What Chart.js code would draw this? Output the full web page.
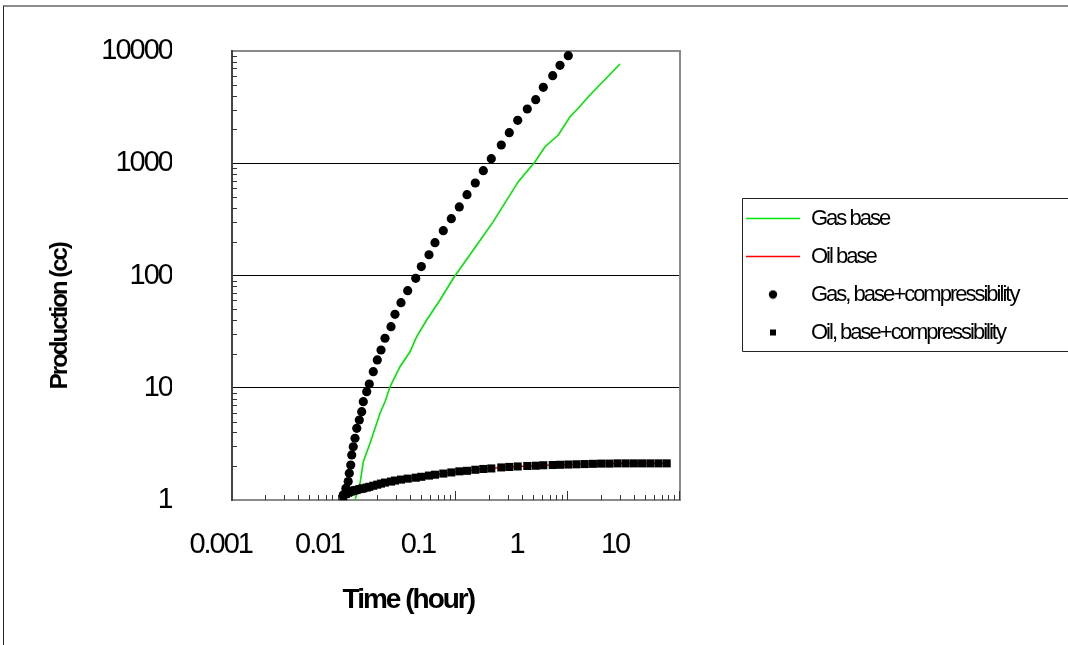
<!DOCTYPE html>
<html>
<head>
<meta charset="utf-8">
<script src="https://cdn.jsdelivr.net/npm/chart.js@4.4.1/dist/chart.umd.min.js"></script>
<style>
html,body{margin:0;padding:0;background:#fff;}
#wrap{position:relative;width:1068px;height:645px;overflow:hidden;}
#frame{position:absolute;left:3px;top:5px;width:1070px;height:650px;border-top:2px solid #8c8c8c;border-left:1px solid #222;pointer-events:none;}
canvas{position:absolute;left:0;top:0;}
</style>
</head>
<body>
<div id="wrap"><canvas id="c" width="1068" height="645" style="width:1068px;height:645px"></canvas><div id="frame"></div></div>
<script>
// ---------- data ----------
const markerTimes = [0.00986,0.0104,0.0109,0.01115,0.01148,0.01172,0.0121,0.01254,0.013,0.0137,
  0.01439,0.01487,0.01595,0.01682,0.01826,0.01983,0.0214,0.02323,0.02628,0.02852,
  0.03228,0.03705,0.0437,0.049,0.0574,0.0649,0.077,0.0908,0.107,0.1254,
  0.1487,0.1753,0.2066,0.2537,0.2991,0.3556,0.4331,0.5147,0.6018,0.7302,
  0.8484,1.006,1.191,1.41,1.669,1.975,2.337,2.766,3.275,3.876,
  4.588,5.43,6.428,7.607];
const gasCompValues = [1.11,1.27,1.46,1.73,2.05,2.52,2.98,3.55,4.35,5.16,
  6.12,7.51,9.22,10.8,13.9,17.7,21.7,27.6,35.0,45.1,
  57.3,73.2,94.4,120,153,196,251,321,408,525,
  667,858,1098,1454,1872,2413,3043,3682,4750,6025,
  7460,9080];
const oilCompValues = [1.08,1.13,1.16,1.18,1.19,1.20,1.21,1.22,1.23,1.25,
  1.26,1.27,1.29,1.31,1.34,1.37,1.40,1.43,1.46,1.49,
  1.52,1.55,1.58,1.61,1.65,1.68,1.72,1.76,1.80,1.82,
  1.86,1.89,1.91,1.95,1.97,1.99,2.01,2.02,2.04,2.05,
  2.06,2.07,2.08,2.09,2.10,2.11,2.11,2.12,2.12,2.12,
  2.12,2.12,2.12,2.12];
const gasBaseTimes = [0.01253,0.0139,0.01487,0.01707,0.01959,0.02096,0.02323,0.02575,0.03162,0.03883,
  0.04458,0.05475,0.0720,0.0946,0.1427,0.2153,0.3599,0.5075,0.6232,0.8192,
  1.042,1.236,1.518,2.912];
const gasBaseValues = [1.0,1.41,2.19,3.2,4.82,5.92,7.51,10.2,15.4,20.9,
  28.5,40.1,60.5,94.4,169,302,685,1032,1404,1785,
  2598,3087,3917,7660];
const oilBaseTimes = [0.0092,0.0099,0.0104,0.0115,0.0130,0.0149,0.0168,0.0198,0.0232,0.0285,
  0.0371,0.049,0.065,0.091,0.125,0.175,0.254,0.356,0.515,0.73,
  1.006,1.41,1.975,2.766,3.876,5.43,7.607];
const oilBaseValues = [1.0,1.08,1.13,1.2,1.23,1.27,1.31,1.37,1.43,1.49,
  1.55,1.61,1.68,1.76,1.82,1.89,1.95,1.99,2.02,2.05,
  2.07,2.09,2.11,2.12,2.12,2.12,2.12];
const seriesNames = ['Gas base','Oil base','Gas, base+compressibility','Oil, base+compressibility'];
const yTickValues = [1,10,100,1000,10000];
const xTickLabels = ['0.001','0.01','0.1','1','10'];
const xTitle = 'Time (hour)';
const yTitle = 'Production (cc)';

// ---------- styling / layout constants ----------
const FONT = "'Liberation Sans',Arial,sans-serif";
const LETTER_SPACING = '-2px';                        // the original uses a narrow face
const X_LABEL_MIN = -2.8854, X_LABEL_MAX = 1.6582;   // label band (decades), slightly compressed like the original
const X_TITLE_POS = -1.097;
const Y_TITLE_POS = 0.572;
const LEGEND_LEFT = 730;

const pts = (xs, ys) => ys.map((v, i) => ({x: xs[i], y: v}));

function markerCanvas(kind){
  const c = document.createElement('canvas');
  c.width = 10; c.height = 10;
  const g = c.getContext('2d');
  g.fillStyle = '#000';
  if (kind === 'circle'){ g.beginPath(); g.arc(5,5,4.2,0,Math.PI*2); g.fill(); }
  else { g.fillRect(2,2,6,6); }
  return c;
}
const legendImgs = [null, null, markerCanvas('circle'), markerCanvas('rect')];

const narrowText = {
  id: 'narrowText',
  beforeUpdate(chart){ chart.ctx.letterSpacing = LETTER_SPACING; },
  beforeDraw(chart){ chart.ctx.letterSpacing = LETTER_SPACING; }
};

const minorTicks = {
  id: 'minorTicks',
  beforeDatasetsDraw(chart){
    const {ctx} = chart; const x = chart.scales.x, y = chart.scales.y;
    ctx.save(); ctx.strokeStyle = '#333'; ctx.lineWidth = 1; ctx.beginPath();
    const ex0 = Math.round(Math.log10(x.min)), ex1 = Math.round(Math.log10(x.max));
    for (let e = ex0; e <= ex1; e++){
      const d = Math.pow(10, e);
      for (let m = 1; m <= 9; m++){
        if (e === ex0 && m === 1) continue;
        if (m * d > x.max * 1.0001) break;
        const px = Math.round(x.getPixelForValue(m * d)) - 0.5;
        const len = m === 1 ? 9 : 5;
        ctx.moveTo(px, y.bottom); ctx.lineTo(px, y.bottom - len);
      }
    }
    const ey0 = Math.round(Math.log10(y.min)), ey1 = Math.round(Math.log10(y.max));
    for (let e = ey0; e < ey1; e++){
      const d = Math.pow(10, e);
      for (let m = 2; m <= 9; m++){
        const py = Math.round(y.getPixelForValue(m * d)) + 0.5;
        ctx.moveTo(x.left, py); ctx.lineTo(x.left + 5, py);
      }
    }
    ctx.stroke(); ctx.restore();
  }
};

const legendFrame = {
  id: 'legendFrame',
  afterDraw(chart){
    const lg = chart.legend; if (!lg || !lg.legendHitBoxes || !lg.legendHitBoxes.length) return;
    const hb = lg.legendHitBoxes; const first = hb[0], last = hb[hb.length - 1];
    const x0 = Math.round(lg.left + 12) + 0.5;
    const y0 = Math.round(first.top - 10) + 0.5;
    const y1 = Math.round(last.top + last.height + 7) + 0.5;
    const x1 = chart.width;
    const ctx = chart.ctx;
    ctx.save(); ctx.strokeStyle = '#222'; ctx.lineWidth = 1;
    ctx.beginPath(); ctx.moveTo(x1, y0); ctx.lineTo(x0, y0); ctx.lineTo(x0, y1); ctx.lineTo(x1, y1); ctx.stroke();
    ctx.restore();
  }
};

const chart = new Chart(document.getElementById('c'), {
  type: 'scatter',
  data: {
    datasets: [
      {label: seriesNames[0], type: 'line', xAxisID: 'x', yAxisID: 'y', data: pts(gasBaseTimes, gasBaseValues), borderColor: '#00e600', backgroundColor: '#00e600', borderWidth: 1.6, pointRadius: 0, tension: 0, order: 1},
      {label: seriesNames[1], type: 'line', xAxisID: 'x', yAxisID: 'y', data: pts(oilBaseTimes, oilBaseValues), borderColor: '#ff0000', backgroundColor: '#ff0000', borderWidth: 1.6, pointRadius: 0, tension: 0, order: 1},
      {label: seriesNames[2], xAxisID: 'x', yAxisID: 'y', data: pts(markerTimes, gasCompValues), showLine: false, pointStyle: 'circle', pointRadius: 4.6, backgroundColor: '#000', borderColor: '#000', borderWidth: 0, order: 0, clip: false},
      {label: seriesNames[3], xAxisID: 'x', yAxisID: 'y', data: pts(markerTimes, oilCompValues), showLine: false, pointStyle: 'rect', pointRadius: 5.7, backgroundColor: '#000', borderColor: '#000', borderWidth: 0, order: 0, clip: false}
    ]
  },
  options: {
    responsive: false, animation: false, devicePixelRatio: 1,
    layout: {padding: {left: 0, right: 0, top: 0, bottom: 0}},
    plugins: {
      tooltip: {enabled: false},
      legend: {
        position: 'right', align: 'center', fullSize: false, maxWidth: 500,
        labels: {
          usePointStyle: true, pointStyleWidth: 54, padding: 16, color: '#000',
          font: {family: FONT, size: 22},
          generateLabels(ch){
            return ch.data.datasets.map((ds, i) => ({
              text: ds.label, datasetIndex: i, hidden: false, fontColor: '#000',
              fillStyle: ds.borderColor, strokeStyle: ds.borderColor,
              lineWidth: legendImgs[i] ? 0 : 1.6,
              pointStyle: legendImgs[i] || 'line'
            }));
          }
        }
      }
    },
    scales: {
      x: {
        type: 'logarithmic', position: 'bottom', min: 0.001, max: 10,
        ticks: {display: false}, grid: {display: false, drawTicks: false},
        border: {display: true, color: '#8a8a8a', width: 2},
        afterFit(s){ s.height = 0; }
      },
      xl: {
        type: 'linear', position: 'bottom', min: X_LABEL_MIN, max: X_LABEL_MAX,
        afterBuildTicks(s){ s.ticks = xTickLabels.map(l => ({value: Math.log10(parseFloat(l))})); },
        ticks: {autoSkip: false, maxRotation: 0, minRotation: 0, padding: 28, color: '#000',
          font: {family: FONT, size: 29}, callback: (v, i) => xTickLabels[i]},
        grid: {display: false, drawTicks: false}, border: {display: false},
        afterFit(s){ s.height = 62; }
      },
      xt: {
        type: 'linear', position: 'bottom', min: X_LABEL_MIN, max: X_LABEL_MAX,
        afterBuildTicks(s){ s.ticks = [{value: X_TITLE_POS}]; },
        ticks: {autoSkip: false, maxRotation: 0, minRotation: 0, padding: 21, color: '#000',
          font: {family: FONT, size: 28, weight: 'bold'}, callback: () => xTitle},
        grid: {display: false, drawTicks: false}, border: {display: false},
        afterFit(s){ s.height = 83; }
      },
      xtop: {
        type: 'linear', position: 'top', min: 0, max: 1,
        ticks: {display: false}, grid: {display: false, drawTicks: false},
        border: {display: true, color: '#8a8a8a', width: 2},
        afterFit(s){ s.height = 51; }
      },
      yb: {
        type: 'linear', position: 'left', min: 0, max: 1,
        ticks: {display: false}, grid: {display: false, drawTicks: false},
        border: {display: true, color: '#444', width: 2},
        afterFit(s){ s.width = 60; }
      },
      y: {
        type: 'logarithmic', position: 'left', min: 1, max: 10000,
        afterBuildTicks(s){ s.ticks = yTickValues.map(v => ({value: v})); },
        ticks: {autoSkip: false, padding: 0, color: '#000', crossAlign: 'near',
          font: {family: FONT, size: 29}, callback: v => String(v)},
        grid: {display: true, drawTicks: false, lineWidth: 1,
          color: c => (c.tick && (c.tick.value === 1 || c.tick.value === 10000)) ? 'rgba(0,0,0,0)' : '#000'},
        border: {display: false},
        afterFit(s){ s.width = 92; }
      },
      yt: {
        type: 'linear', position: 'left', min: 0, max: 1,
        afterBuildTicks(s){ s.ticks = [{value: Y_TITLE_POS}]; },
        ticks: {autoSkip: false, minRotation: 90, maxRotation: 90, padding: 20, color: '#000', crossAlign: 'near',
          font: {family: FONT, size: 24, weight: 'bold'}, callback: () => yTitle},
        grid: {display: false, drawTicks: false}, border: {display: false},
        afterFit(s){ s.width = 80; }
      },
      yr: {
        type: 'linear', position: 'right', min: 0, max: 1,
        ticks: {display: false}, grid: {display: false, drawTicks: false},
        border: {display: true, color: '#8a8a8a', width: 2},
        afterFit(s){ s.width = 50; }
      }
    }
  },
  plugins: [narrowText, minorTicks, legendFrame]
});
// place the legend where the original has it
chart.options.layout.padding.right = Math.max(0, chart.width - LEGEND_LEFT - chart.legend.width);
chart.update();
</script>
</body>
</html>
